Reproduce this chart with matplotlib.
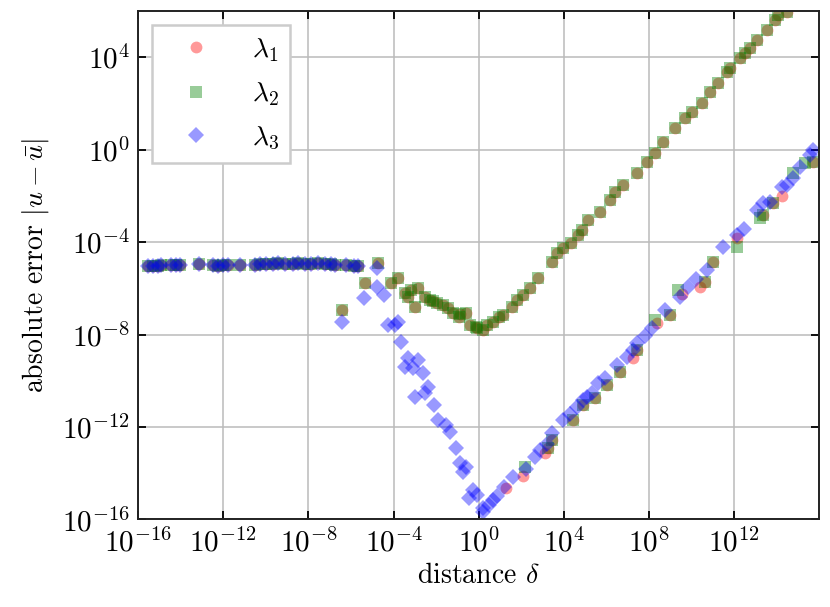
import matplotlib
matplotlib.use("Agg")
import matplotlib.pyplot as plt
import numpy as np

plt.rcParams.update({
    "font.family": "serif",
    "font.serif": ["cmr10"],
    "mathtext.fontset": "cm",
    "axes.formatter.use_mathtext": True,
    "font.size": 20,
})

# log10 positions
# plateau: all three eigenvalues sit on top of each other
plateau_logx = [-15.53, -15.29, -15.06, -14.92, -14.45, -14.21, -14.02, -13.13, -12.47, -12.24,
                -12.0, -11.76, -11.2, -10.49, -10.26, -9.98, -9.65, -9.41, -9.08, -8.71,
                -8.47, -8.14, -7.86, -7.53, -7.20, -6.96, -6.73, -6.21, -5.88, -5.65]
plateau_logy = [-5.02, -5.03, -5.04, -5.01, -4.99, -5.01, -4.98, -4.95, -5.0, -5.02,
                -4.99, -5.01, -4.97, -5.0, -4.95, -4.93, -4.95, -4.92, -4.94, -4.93,
                -4.91, -4.94, -4.93, -4.92, -4.94, -4.95, -4.97, -5.0, -5.04, -5.05]

# lambda_1 and lambda_2 coincide on the upper branch
upper_logx = [-6.40, -5.32, -4.71, -4.14, -3.77, -3.44, -3.30, -3.20, -2.97, -2.83,
              -2.50, -2.27, -2.13, -1.94, -1.66, -1.42, -1.19, -0.95, -0.86, -0.62,
              -0.39, -0.15, -0.06, 0.18, 0.41, 0.69, 0.93, 1.16, 1.58, 1.82,
              2.10, 2.43, 2.80, 3.46, 3.69, 3.98, 4.31, 4.68, 4.87, 5.15,
              5.71, 6.18, 6.42, 6.79, 7.45, 7.92, 8.29, 8.67, 9.23, 9.70,
              10.03, 10.50, 10.88, 11.25, 11.67, 11.81, 12.28, 12.52, 12.75, 13.08,
              13.55, 13.93, 14.07, 14.49]
upper_logy = [-6.94, -5.77, -4.91, -5.77, -5.56, -6.21, -6.38, -6.08, -6.81, -5.99,
              -6.38, -6.51, -6.55, -6.64, -6.72, -6.85, -7.07, -7.24, -7.11, -7.07,
              -7.59, -7.68, -7.72, -7.81, -7.59, -7.46, -7.24, -7.16, -6.81, -6.51,
              -6.29, -5.99, -5.56, -4.86, -4.48, -4.26, -4.04, -3.70, -3.48, -3.05,
              -2.70, -2.18, -1.84, -1.54, -1.02, -0.54, -0.15, 0.32, 0.93, 1.36,
              1.62, 2.01, 2.49, 2.88, 3.35, 3.52, 3.96, 4.17, 4.39, 4.74,
              5.17, 5.60, 5.82, 5.95]

# lower branch, both lambda_1 and lambda_2
lower12_logx = [3.27, 3.46, 4.44, 4.91, 5.48, 6.04, 6.65, 7.45, 9.00, 10.64,
                11.02, 13.36, 13.83, 15.70]
lower12_logy = [-12.91, -12.56, -11.70, -11.05, -10.75, -10.18, -9.62, -8.67, -7.16, -5.73,
                -4.86, -2.83, -2.31, -0.54]

# lower branch, only one of the two
lower1_logx = [1.26, 2.10, 3.13, 7.26, 8.39, 9.56, 10.41, 12.14, 14.25]
lower1_logy = [-14.64, -14.12, -13.12, -9.02, -7.50, -6.25, -5.95, -3.83, -2.01]
lower2_logx = [2.19, 8.29, 9.37, 12.14, 13.22, 14.76, 15.33]
lower2_logy = [-13.73, -7.37, -6.08, -4.22, -2.96, -1.02, -0.58]

# lambda_3 leaves the plateau and follows the V shape
lam3_logx = [-6.40, -5.41, -4.76, -4.76, -4.47, -4.24, -3.91, -3.77, -3.67, -3.30,
             -2.83, -3.44, -3.11, -2.64, -2.36, -2.97, -2.50, -2.12, -1.89, -1.56,
             -1.33, -1.09, -0.86, -0.62, -0.72, -0.29, -0.06, -0.48, 0.22, 0.22,
             0.46, 0.69, 0.88, 1.20, 1.63, 2.20, 2.66, 2.90, 3.20, 3.46,
             3.98, 4.30, 4.63, 4.91, 5.10, 5.34, 5.62, 5.95, 6.50, 6.98,
             7.26, 7.45, 7.80, 8.16, 8.77, 9.47, 9.84, 10.20, 10.73, 11.48,
             12.13, 12.45, 13.07, 13.36, 13.68, 14.25, 14.48, 14.76, 15.10, 15.56,
             15.70]
lam3_logy = [-7.46, -6.42, -5.12, -5.95, -6.29, -7.59, -7.59, -7.46, -8.32, -9.02,
             -9.10, -9.41, -9.45, -9.67, -10.27, -10.70, -10.53, -11.05, -11.70, -11.91,
             -12.22, -12.91, -13.56, -13.73, -13.95, -14.72, -14.94, -15.07, -15.50, -15.67,
             -15.37, -15.16, -14.98, -14.60, -14.16, -13.80, -13.30, -13.00, -12.75, -12.26,
             -11.70, -11.45, -11.14, -10.83, -10.70, -10.53, -10.10, -9.88, -9.30, -8.97,
             -8.67, -8.37, -8.05, -7.72, -6.94, -6.38, -5.95, -5.60, -5.21, -4.22,
             -3.70, -3.45, -2.62, -2.31, -2.27, -1.62, -1.54, -1.23, -0.75, -0.24,
             -0.02]

lam1_x = 10.0 ** np.array(plateau_logx + upper_logx + lower12_logx + lower1_logx)
lam1_y = 10.0 ** np.array(plateau_logy + upper_logy + lower12_logy + lower1_logy)
lam2_x = 10.0 ** np.array(plateau_logx + upper_logx + lower12_logx + lower2_logx)
lam2_y = 10.0 ** np.array(plateau_logy + upper_logy + lower12_logy + lower2_logy)
lam3_x = 10.0 ** np.array(plateau_logx + lam3_logx)
lam3_y = 10.0 ** np.array(plateau_logy + lam3_logy)

fig = plt.figure(figsize=(8.3, 6.07), dpi=100)
ax = fig.add_axes([0.1663, 0.1442, 0.8204, 0.8377])

ax.plot(lam1_x, lam1_y, 'o', color='red', alpha=0.4, markersize=8.5, mew=0, label=r'$\lambda_1$')
ax.plot(lam2_x, lam2_y, 's', color='green', alpha=0.4, markersize=8.5, mew=0, label=r'$\lambda_2$')
ax.plot(lam3_x, lam3_y, 'D', color='blue', alpha=0.4, markersize=8.5, mew=0, label=r'$\lambda_3$')

ax.set_xscale('log')
ax.set_yscale('log')
ax.set_xlim(1e-16, 9.5e15)
ax.set_ylim(1e-16, 1e6)
ax.set_xticks(10.0 ** np.arange(-16, 13, 4))
ax.set_yticks(10.0 ** np.arange(-16, 5, 4))
ax.minorticks_off()
ax.grid(True, color='#bbbbbb', linewidth=1.1)
ax.set_axisbelow(True)
ax.tick_params(direction='in', top=True, right=True, length=6, width=1.3,
               labelsize=21, pad=6)
for s in ax.spines.values():
    s.set_linewidth(1.4)
    s.set_color('#222222')

ax.set_xlabel(r'distance $\delta$', labelpad=4)
ax.set_ylabel(r'absolute error $|u - \bar{u}|$', labelpad=8)

leg = ax.legend(loc='upper left', fancybox=False, framealpha=1, edgecolor='#cccccc',
                handlelength=2.4, handletextpad=0.8, labelspacing=0.6, borderpad=0.4)
leg.get_frame().set_linewidth(1.8)

fig.savefig('out.png')
